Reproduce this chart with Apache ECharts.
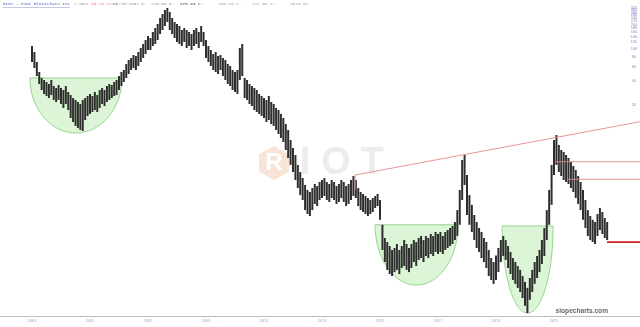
<!DOCTYPE html>
<html><head><meta charset="utf-8">
<script src="https://cdn.jsdelivr.net/npm/echarts@6/dist/echarts.min.js"></script>
<style>html,body{margin:0;padding:0;background:#fff}#c{width:640px;height:327px}</style>
</head><body><div id="c"></div>
<script>
// Monthly bars, first bar = Jan 2003
const startYear = 2003;
const highs = [
 108.1,91.1,68.4,51.4,43.3,40.9,38.6,36.5,40.9,34.4,32.5,35.4,
 32.5,30.7,34.4,29.0,26.6,24.4,23.1,21.8,20.6,23.1,24.4,25.9,
 27.4,25.9,29.0,26.6,30.7,32.5,30.7,34.4,36.5,35.4,38.6,40.9,
 45.8,51.4,54.4,64.6,72.4,76.7,83.6,81.2,91.1,102.1,114.5,128.3,
 143.9,135.9,161.4,180.9,202.9,240.8,270,303,320.5,285.9,240.8,214.8,
 202.9,191.6,171,180.9,171,161.4,152.4,171,180.9,161.4,191.6,161.4,
 128.3,108.1,96.4,86.0,91.1,81.2,83.6,76.7,72.4,64.6,61.0,54.4,
 51.4,54.4,102.1,114.5,43.3,40.9,36.5,34.4,32.5,30.7,27.4,25.9,
 24.4,23.1,25.9,21.8,20.6,18.4,17.3,15.5,13.8,11.6,9.78,7.35,
 5.85,4.79,3.60,2.94,2.48,2.03,1.76,1.66,1.86,2.09,1.97,2.21,
 2.34,2.48,2.21,2.09,2.34,2.21,1.97,2.09,2.34,2.21,1.97,2.09,
 2.34,2.62,2.34,1.86,1.66,1.57,1.48,1.40,1.32,1.40,1.48,1.57,
 1.32,0.65,0.446,0.397,0.354,0.316,0.335,0.375,0.316,0.354,0.42,0.375,
 0.335,0.375,0.42,0.397,0.446,0.472,0.42,0.472,0.446,0.500,0.472,0.529,
 0.500,0.529,0.472,0.529,0.56,0.593,0.628,0.704,0.99,1.76,4.15,4.79,
 2.70,1.52,1.15,0.86,0.704,0.593,0.529,0.446,0.397,0.316,0.251,0.224,
 0.27,0.335,0.42,0.472,0.42,0.354,0.299,0.251,0.224,0.200,0.179,0.150,
 0.127,0.107,0.142,0.179,0.224,0.266,0.316,0.42,0.593,0.99,1.76,3.60,
 7.35,8.48,6.37,5.52,5.21,4.79,4.39,3.92,3.49,3.12,2.62,2.21,
 1.76,1.32,0.99,0.836,0.75,0.704,0.885,1.05,0.937,0.789,0.704
];
const lows = [
 68.4,57.6,45.8,36.5,30.7,27.4,25.9,24.4,26.6,23.1,21.8,23.1,
 20.6,18.4,20.6,17.3,13.8,12.3,11.0,10.4,9.78,9.5,13.0,14.6,
 15.5,16.4,17.3,16.4,18.4,20.6,19.4,21.8,23.1,24.4,25.9,26.6,
 30.7,34.4,38.6,43.3,48.5,54.4,57.6,54.4,61.0,68.4,76.7,86.0,
 96.4,96.4,108.1,114.5,128.3,152.4,171,191.6,214.8,171,152.4,135.9,
 121.2,114.5,108.1,121.2,102.1,108.1,96.4,108.1,114.5,102.1,121.2,108.1,
 76.7,68.4,61.0,54.4,51.4,48.5,54.4,45.8,40.9,36.5,34.4,30.7,
 29.0,27.4,40.9,45.8,24.4,23.1,20.6,19.4,17.3,16.4,15.5,14.6,
 13.8,12.3,13.0,11.6,11.0,9.78,8.73,7.78,6.94,5.52,4.39,3.60,
 2.94,2.34,1.86,1.52,1.32,0.99,0.885,0.836,0.99,1.18,1.11,1.32,
 1.40,1.48,1.32,1.25,1.40,1.32,1.18,1.25,1.40,1.25,1.11,1.18,
 1.32,1.48,1.40,1.11,0.99,0.937,0.885,0.836,0.885,0.937,1.05,1.11,
 0.75,0.316,0.224,0.179,0.159,0.150,0.168,0.179,0.159,0.189,0.200,0.179,
 0.168,0.189,0.224,0.200,0.238,0.251,0.224,0.266,0.251,0.282,0.266,0.299,
 0.282,0.299,0.282,0.316,0.335,0.354,0.375,0.42,0.472,0.65,1.32,2.03,
 0.86,0.65,0.529,0.42,0.335,0.299,0.251,0.224,0.189,0.150,0.134,0.120,
 0.134,0.168,0.224,0.266,0.238,0.189,0.159,0.134,0.120,0.107,0.095,0.080,
 0.064,0.052,0.076,0.095,0.120,0.142,0.168,0.212,0.266,0.42,0.65,1.15,
 2.70,3.60,2.94,2.62,2.34,2.21,2.09,1.86,1.66,1.40,1.18,0.99,
 0.75,0.593,0.472,0.42,0.397,0.375,0.472,0.56,0.50,0.446,0.42
];
const yearTicks = [2003,2005,2007,2009,2011,2013,2015,2017,2019,2021];
const priceTicks = [20,40,60,80,100,120,140,160,180,200,220,240,260,280,300,320,340];
// cup patterns: [leftYear, rightYear, rimPrice, bottomPrice]
const cups = [
 [2002.93, 2006.10, 43.3, 8.98],
 [2014.83, 2017.69, 0.65, 0.116],
 [2019.21, 2020.97, 0.628, 0.052]
];
// thin red lines: [year1, price1, year2, price2]
const thinLines = [
 [2014.14, 2.70, 2023.97, 12.4],
 [2014.14, 2.70, 2014.14, 1.76],
 [2021.07, 3.95, 2023.97, 3.95],
 [2021.45, 2.39, 2023.97, 2.39]
];
const thickLines = [
 [2022.83, 0.397, 2023.97, 0.397]
];
const xMin = 2001.8966, xMax = 2023.9655;
const yMin = 0.04786, yMax = 403.1;

const L = Math.log10;
const barData = highs.map((h, i) => [startYear + i / 12, L(lows[i]), L(h)]);
const cupData = cups.map(c => [c[0], c[1], L(c[2]), L(c[3])]);
const lineData = a => a.map(s => [s[0], L(s[1]), s[2], L(s[3])]);

function renderBar(params, api) {
  const x = api.value(0);
  const lo = api.coord([x, api.value(1)]);
  const hi = api.coord([x, api.value(2)]);
  return {type: 'rect', shape: {x: lo[0] - 1.0, y: hi[1], width: 2.0, height: Math.max(1, lo[1] - hi[1])},
    style: {fill: '#2e2e2e'}};
}
function renderCup(params, api) {
  const l = api.value(0), r = api.value(1), rim = api.value(2), bot = api.value(3);
  const pL = api.coord([l, rim]), pR = api.coord([r, rim]), pB = api.coord([(l + r) / 2, bot]);
  const cx = (pL[0] + pR[0]) / 2, rx = (pR[0] - pL[0]) / 2, ry = pB[1] - pL[1];
  const pts = [];
  for (let k = 0; k <= 80; k++) { const a = Math.PI * k / 80; pts.push([cx + rx * Math.cos(a), pL[1] + ry * Math.sin(a)]); }
  return {type: 'polygon', shape: {points: pts}, style: {fill: 'rgba(150,225,130,0.33)', stroke: '#8ccf84', lineWidth: 0.9}};
}
function lineRenderer(color, width) {
  return function (params, api) {
    const p1 = api.coord([api.value(0), api.value(1)]);
    const p2 = api.coord([api.value(2), api.value(3)]);
    return {type: 'line', shape: {x1: p1[0], y1: p1[1], x2: p2[0], y2: p2[1]}, style: {stroke: color, lineWidth: width}};
  };
}

const chart = echarts.init(document.getElementById('c'), null, {renderer: 'canvas'});
const hdr = (x, t, c, w) => ({type: 'text', left: x, top: 2, style: {text: t, fill: c, font: (w || 'normal') + ' 4.3px "Liberation Mono", monospace'}});
chart.setOption({
  animation: false,
  backgroundColor: '#ffffff',
  grid: {left: 0, right: 0, top: 0, bottom: 11, outerBoundsMode: 'none'},
  xAxis: {type: 'value', min: xMin, max: xMax,
    axisLine: {onZero: false, lineStyle: {color: '#bdbdbd', width: 1}}, axisTick: {show: false}, splitLine: {show: false},
    axisLabel: {customValues: yearTicks, formatter: v => String(Math.round(v)), fontSize: 4, color: '#9ea3c4', margin: 3}},
  yAxis: {type: 'value', position: 'right', min: L(yMin), max: L(yMax),
    axisLine: {show: false, onZero: false}, axisTick: {show: false}, splitLine: {show: false},
    axisLabel: {inside: true, customValues: priceTicks.map(L), formatter: v => String(Math.round(Math.pow(10, v))),
      fontSize: 4, color: '#8c8cc8', margin: 6, align: 'center'}},
  graphic: [
    {type: 'polygon', z: -10, shape: {points: [[274,146],[289,154.5],[289,171.5],[274,180],[259,171.5],[259,154.5]]}, style: {fill: '#f7e4d6'}},
    {type: 'text', z: -9, x: 274, y: 163, style: {text: 'R', fill: '#ffffff', font: 'bold 24px "Liberation Sans"', align: 'center', verticalAlign: 'middle'}},
    {type: 'text', z: -9, x: 305, y: 164, style: {text: 'I', fill: '#ececec', font: 'bold 38px "Liberation Sans"', align: 'center', verticalAlign: 'middle'}},
    {type: 'text', z: -9, x: 336, y: 164, style: {text: 'O', fill: '#ececec', font: 'bold 38px "Liberation Sans"', align: 'center', verticalAlign: 'middle'}},
    {type: 'text', z: -9, x: 372, y: 164, style: {text: 'T', fill: '#ececec', font: 'bold 38px "Liberation Sans"', align: 'center', verticalAlign: 'middle'}},
    {type: 'text', right: 32, top: 308, style: {text: 'slopecharts.com', fill: '#666666', font: 'bold 6.6px "Liberation Sans", sans-serif'}},
    hdr(3, 'RIOT - Riot Blockchain Inc', '#5060d0'),
    {type: 'rect', shape: {x: 3, y: 7.4, width: 67, height: 0.5}, style: {fill: '#8090e0'}},
    hdr(74, '1.96', '#999999'),
    hdr(83, '-0.46', '#e49090'),
    hdr(94, '(-18.97%)', '#e49090'),
    hdr(113, '06/15/2004 O:', '#999999'),
    hdr(151, '278.99 H:', '#999999'),
    hdr(180, '278.99 L:', '#777777', 'bold'),
    hdr(218, '235.10 C:', '#999999'),
    hdr(252, '247.35 V:', '#999999'),
    hdr(290, '2573.02', '#999999')
  ],
  series: [
    {type: 'custom', z: 1, data: cupData, encode: {x: [0, 1], y: [2, 3]}, renderItem: renderCup, silent: true},
    {type: 'custom', z: 2, data: barData, encode: {x: 0, y: [1, 2]}, renderItem: renderBar, silent: true},
    {type: 'custom', z: 3, data: lineData(thinLines), encode: {x: [0, 2], y: [1, 3]}, renderItem: lineRenderer('#e48a8a', 0.9), silent: true},
    {type: 'custom', z: 3, data: lineData(thickLines), encode: {x: [0, 2], y: [1, 3]}, renderItem: lineRenderer('#d02020', 1.8), silent: true}
  ]
});
</script></body></html>
